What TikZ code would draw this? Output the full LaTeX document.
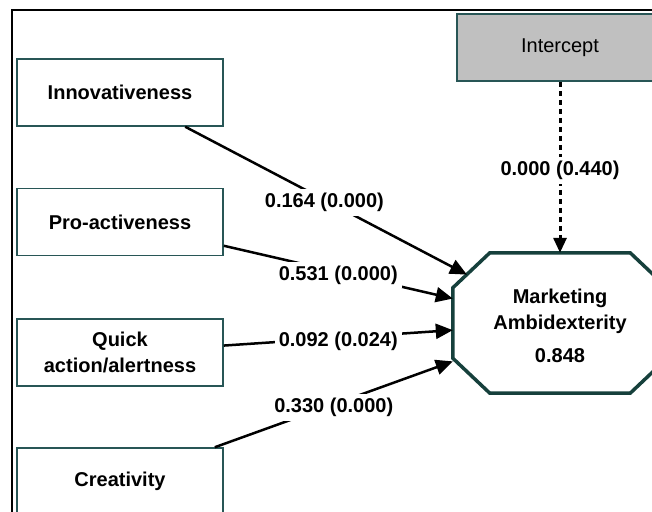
\documentclass[tikz,border=0pt]{standalone}
\usepackage{fontspec}
\setmainfont{Liberation Sans}
\usetikzlibrary{arrows.meta}
\definecolor{boxline}{RGB}{40,86,86}
\definecolor{octline}{RGB}{22,64,60}
\definecolor{icptfill}{RGB}{192,192,192}
\begin{document}
\begin{tikzpicture}[x=1pt,y=-1pt,
  every node/.style={font=\fontsize{20}{26}\selectfont\bfseries},
  ind/.style={draw=boxline,line width=1.5pt,minimum width=206pt,minimum height=67pt,align=center},
  path/.style={line width=2.5pt,-{Triangle[length=17pt,width=15pt]}},
  coef/.style={pos=0.5,yshift=-3pt,fill=white,inner sep=4pt}]
  \useasboundingbox (0,0) rectangle (652,511);
  \clip (0,0) rectangle (652,511);
  % frame
  \draw[line width=1.5pt] (652,10) -- (12,10) -- (12,515);
  % indicators
  \node[ind] (innov) at (120,92.5) {Innovativeness};
  \node[ind] (proact) at (120,222) {Pro-activeness};
  \node[ind] (quick) at (120,352.5) {Quick\\action/alertness};
  \node[ind] (creat) at (120,481.5) {Creativity};
  \node[ind,fill=icptfill,font=\fontsize{20}{26}\selectfont\mdseries] (icpt) at (560,47.5) {Intercept};
  % construct (octagon)
  \node[minimum width=214pt,minimum height=140pt,inner sep=0pt,align=center] (ma) at (560,323)
    {\rule{0pt}{21pt}Marketing\\Ambidexterity\\[7pt]0.848};
  \draw[octline,line width=3.5pt,line join=miter]
    ([xshift=37pt]ma.north west) -- ([xshift=-37pt]ma.north east) -- ([yshift=-35pt]ma.north east)
    -- ([yshift=35pt]ma.south east) -- ([xshift=-37pt]ma.south east) -- ([xshift=37pt]ma.south west)
    -- ([yshift=35pt]ma.south west) -- ([yshift=-35pt]ma.north west) -- cycle;
  % paths
  \draw[path,shorten >=-16pt] (innov) -- node[coef,pos=0.52] {0.164 (0.000)} (ma);
  \draw[path] (proact) -- node[coef] {0.531 (0.000)} (ma);
  \draw[path] (quick) -- node[coef] {0.092 (0.024)} (ma);
  \draw[path] (creat) -- node[coef] {0.330 (0.000)} (ma);
  \draw[path,line width=3pt,-{Triangle[length=15pt,width=13pt]},dash pattern=on 5pt off 4pt]
    (icpt) -- node[coef] {0.000 (0.440)} (ma);
\end{tikzpicture}
\end{document}
